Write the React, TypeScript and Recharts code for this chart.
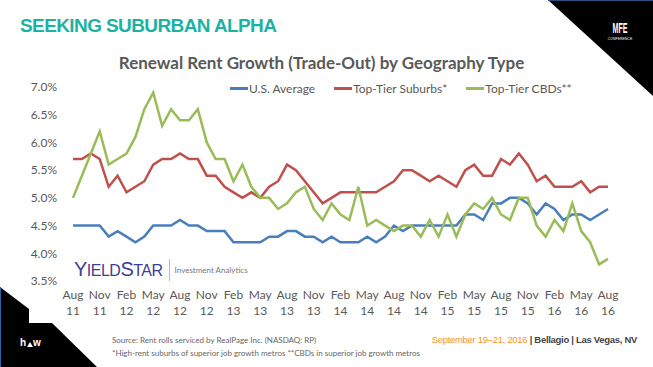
import { LineChart, Line, XAxis, YAxis } from "recharts";

const months = [
  "Aug 11", "Sep 11", "Oct 11", "Nov 11", "Dec 11", "Jan 12", "Feb 12", "Mar 12", "Apr 12", "May 12",
  "Jun 12", "Jul 12", "Aug 12", "Sep 12", "Oct 12", "Nov 12", "Dec 12", "Jan 13", "Feb 13", "Mar 13",
  "Apr 13", "May 13", "Jun 13", "Jul 13", "Aug 13", "Sep 13", "Oct 13", "Nov 13", "Dec 13", "Jan 14",
  "Feb 14", "Mar 14", "Apr 14", "May 14", "Jun 14", "Jul 14", "Aug 14", "Sep 14", "Oct 14", "Nov 14",
  "Dec 14", "Jan 15", "Feb 15", "Mar 15", "Apr 15", "May 15", "Jun 15", "Jul 15", "Aug 15", "Sep 15",
  "Oct 15", "Nov 15", "Dec 15", "Jan 16", "Feb 16", "Mar 16", "Apr 16", "May 16", "Jun 16", "Jul 16",
  "Aug 16",
];

const usAverage = [
  4.5, 4.5, 4.5, 4.5, 4.3, 4.4, 4.3, 4.2, 4.3, 4.5,
  4.5, 4.5, 4.6, 4.5, 4.5, 4.4, 4.4, 4.4, 4.2, 4.2,
  4.2, 4.2, 4.3, 4.3, 4.4, 4.4, 4.3, 4.3, 4.2, 4.3,
  4.2, 4.2, 4.2, 4.3, 4.2, 4.3, 4.5, 4.4, 4.5, 4.5,
  4.5, 4.5, 4.5, 4.5, 4.7, 4.7, 4.6, 4.9, 4.9, 5.0,
  5.0, 4.9, 4.7, 4.9, 4.8, 4.6, 4.7, 4.7, 4.6, 4.7,
  4.8,
];

const suburbs = [
  5.7, 5.7, 5.8, 5.7, 5.2, 5.4, 5.1, 5.2, 5.3, 5.6,
  5.7, 5.7, 5.8, 5.7, 5.7, 5.4, 5.4, 5.2, 5.1, 5.0,
  5.1, 5.0, 5.2, 5.3, 5.6, 5.5, 5.3, 5.1, 4.9, 5.0,
  5.1, 5.1, 5.1, 5.1, 5.1, 5.2, 5.3, 5.5, 5.5, 5.4,
  5.3, 5.4, 5.3, 5.2, 5.5, 5.6, 5.4, 5.4, 5.7, 5.6,
  5.8, 5.6, 5.3, 5.4, 5.2, 5.2, 5.2, 5.3, 5.1, 5.2,
  5.2,
];

const cbds = [
  5.0, 5.4, 5.8, 6.2, 5.6, 5.7, 5.8, 6.1, 6.6, 6.9,
  6.3, 6.6, 6.4, 6.4, 6.6, 6.0, 5.7, 5.7, 5.3, 5.6,
  5.2, 5.0, 5.0, 4.8, 4.9, 5.1, 5.2, 4.8, 4.6, 4.9,
  4.7, 4.6, 5.2, 4.5, 4.6, 4.5, 4.4, 4.5, 4.5, 4.3,
  4.6, 4.3, 4.7, 4.3, 4.7, 4.9, 4.8, 5.0, 4.7, 4.6,
  5.0, 5.0, 4.5, 4.3, 4.6, 4.4, 4.9, 4.4, 4.2, 3.8,
  3.9,
];

const yTicks = [3.5, 4.0, 4.5, 5.0, 5.5, 6.0, 6.5, 7.0];

const series = [
  { key: "us", name: "U.S. Average", color: "#4A7EBB" },
  { key: "sub", name: "Top-Tier Suburbs*", color: "#C0504D" },
  { key: "cbd", name: "Top-Tier CBDs**", color: "#9BBB59" },
];

const data = months.map((m, i) => ({
  month: m,
  us: usAverage[i],
  sub: suburbs[i],
  cbd: cbds[i],
}));

const FONT = "Lato, 'Open Sans', sans-serif";
const GREY = "#595959";

const MonthTick = (props: any) => {
  const { x, y, payload } = props;
  const [mon, yr] = String(payload.value).split(" ");
  return (
    <text x={x} y={y} textAnchor="middle" fill={GREY} fontSize={12} fontFamily={FONT}>
      <tspan x={x} dy={10}>{mon}</tspan>
      <tspan x={x} dy={16}>{yr}</tspan>
    </text>
  );
};

export default function App() {
  return (
    <div
      style={{
        position: "absolute",
        left: 0,
        top: 0,
        width: 653,
        height: 367,
        overflow: "hidden",
        background: "#fff",
        fontFamily: FONT,
      }}
    >
      <svg width={653} height={367} style={{ position: "absolute", left: 0, top: 0 }}>
        <polygon points="548,0 653,0 653,96" fill="#000" />
        <line x1={548} y1={0} x2={653} y2={0} stroke="#2F4F7F" strokeWidth={2} />
        <polygon points="0,287 29,309 29,323 52,323 97,367 0,367" fill="#000" />
        <line x1={0.5} y1={287} x2={0.5} y2={367} stroke="#2F5FA0" strokeWidth={1} />
        <text x={620} y={33} textAnchor="middle" fill="#fff" fontSize={14} fontWeight={700} fontFamily="'Liberation Sans', sans-serif" textLength={15} lengthAdjust="spacingAndGlyphs">MFE</text>
        <text x={620} y={40} textAnchor="middle" fill="#fff" fontSize={3.5} fontFamily="'Liberation Sans', sans-serif">CONFERENCE</text>
        <text x={20} y={346} fill="#fff" fontSize={10} fontWeight={700} fontFamily="'Liberation Sans', sans-serif">h</text>
        <polygon points="27,347 30,342 33,347" fill="#fff" />
        <text x={33} y={346} fill="#fff" fontSize={10} fontWeight={700} fontFamily="'Liberation Sans', sans-serif">w</text>
      </svg>

      <div
        style={{
          position: "absolute",
          left: 20,
          top: 15,
          color: "#1AB3A3",
          fontSize: 19,
          fontWeight: 700,
          fontFamily: "'Liberation Sans', Arial, sans-serif",
          letterSpacing: -0.6,
          whiteSpace: "nowrap",
        }}
      >
        SEEKING SUBURBAN ALPHA
      </div>

      <div
        style={{
          position: "absolute",
          left: 0,
          width: 643,
          top: 52,
          textAlign: "center",
          color: GREY,
          fontSize: 17,
          fontWeight: 700,
          whiteSpace: "nowrap",
        }}
      >
        Renewal Rent Growth (Trade-Out) by Geography Type
      </div>

      <div
        style={{
          position: "absolute",
          left: 230,
          top: 81,
          display: "flex",
          gap: 19,
          fontSize: 12,
          color: GREY,
          whiteSpace: "nowrap",
        }}
      >
        {series.map((s) => (
          <div key={s.key} style={{ display: "flex", alignItems: "center" }}>
            <span style={{ display: "inline-block", width: 18, height: 3, background: s.color, marginRight: 1 }} />
            <span>{s.name}</span>
          </div>
        ))}
      </div>

      <div style={{ position: "absolute", left: 0, top: 0 }}>
        <LineChart width={653} height={367} data={data} margin={{ top: 87, right: 45, bottom: 56, left: 23 }}>
          <XAxis
            dataKey="month"
            interval={2}
            tickLine={false}
            axisLine={false}
            height={30}
            tick={<MonthTick />}
          />
          <YAxis
            domain={[3.5, 7]}
            ticks={yTicks}
            tickFormatter={(v: number) => v.toFixed(1) + "%"}
            tickLine={false}
            axisLine={false}
            width={50}
            tickSize={0}
            tickMargin={16}
            tick={{ fill: GREY, fontSize: 12, fontFamily: FONT }}
          />
          {series.map((s) => (
            <Line
              key={s.key}
              dataKey={s.key}
              name={s.name}
              stroke={s.color}
              strokeWidth={2.5}
              dot={false}
              type="linear"
              isAnimationActive={false}
            />
          ))}
        </LineChart>
      </div>

      <div style={{ position: "absolute", left: 74, top: 258, display: "flex", alignItems: "center" }}>
        <span style={{ color: "#3E3F93", fontSize: 20, letterSpacing: -0.5, fontFamily: "'Liberation Sans', sans-serif" }}>
          Y<span style={{ fontSize: 16 }}>IELD</span>S<span style={{ fontSize: 16 }}>TAR</span>
        </span>
        <span style={{ width: 1, height: 22, background: "#bbb", margin: "0 5px 0 6px" }} />
        <span style={{ color: "#777", fontSize: 8 }}>Investment Analytics</span>
      </div>

      <div style={{ position: "absolute", left: 112, top: 334, color: "#666", fontSize: 8, lineHeight: "13px", whiteSpace: "nowrap" }}>
        <div>Source: Rent rolls serviced by RealPage Inc. (NASDAQ: RP)</div>
        <div>*High-rent suburbs of superior job growth metros **CBDs in superior job growth metros</div>
      </div>

      <div style={{ position: "absolute", right: 16, top: 334, fontSize: 9.5, letterSpacing: -0.3, whiteSpace: "nowrap", fontFamily: "'Liberation Sans', sans-serif" }}>
        <span style={{ color: "#F7941D" }}>September 19–21, 2016</span>
        <span style={{ color: "#444", fontWeight: 700 }}> | Bellagio | Las Vegas, NV</span>
      </div>
    </div>
  );
}
